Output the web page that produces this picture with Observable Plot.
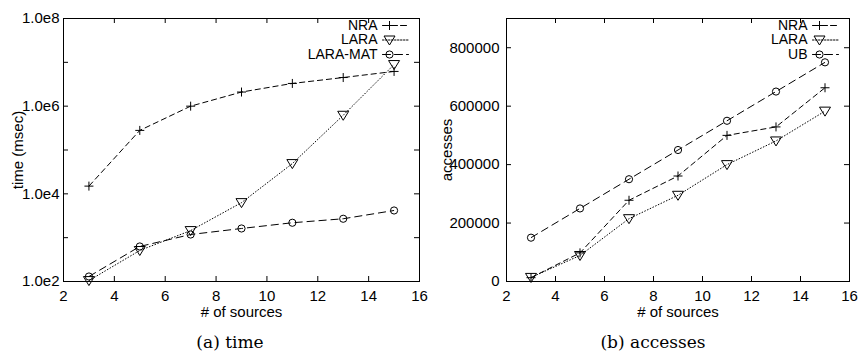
<!DOCTYPE html>
<html><head><meta charset="utf-8">
<script src="https://cdn.jsdelivr.net/npm/d3@7"></script>
<script src="https://cdn.jsdelivr.net/npm/@observablehq/plot@0.6"></script>
<style>
body{margin:0;background:#fff;}
#wrap{position:relative;width:862px;height:356px;overflow:hidden;background:#fff;}
#wrap svg, #wrap svg text{font-family:"Liberation Sans", Arial, sans-serif !important;}
.panel{position:absolute;top:0;}
.cap{position:absolute;font-family:"DejaVu Serif",serif;font-size:17px;line-height:17px;transform:translateX(-50%);white-space:nowrap;color:#000;}
</style></head><body>
<div id="wrap">
  <div id="pa" class="panel" style="left:0px"></div>
  <div id="pb" class="panel" style="left:431px"></div>
  <div class="cap" style="left:230px;top:334px">(a) time</div>
  <div class="cap" style="left:653px;top:334px">(b) accesses</div>
</div>
<script>
// ---- data ----
const sources = [3, 5, 7, 9, 11, 13, 15];
const timeNRA = [15000, 280000, 1000000, 2100000, 3300000, 4500000, 6200000];
const timeLARA = [105, 510, 1450, 6300, 49000, 620000, 8900000];
const timeLARAMAT = [130, 630, 1180, 1620, 2190, 2700, 4170];
const accNRA = [13000, 98000, 278000, 361000, 500000, 529000, 663000];
const accLARA = [14000, 89000, 215000, 295000, 400000, 481000, 583000];
const accUB = [150000, 250000, 350000, 450000, 550000, 650000, 750000];
const xTicks = [2, 4, 6, 8, 10, 12, 14, 16];
const timeTicks = [1e2, 1e3, 1e4, 1e5, 1e6, 1e7, 1e8];
const timeLabelTicks = [1e2, 1e4, 1e6, 1e8];
const timeLabels = ["1.0e2", "1.0e4", "1.0e6", "1.0e8"];
const accTicks = [0, 200000, 400000, 600000, 800000];
const accLabels = ["0", "200000", "400000", "600000", "800000"];

// ---- symbols ----
const symPlus = {draw(c) { c.moveTo(-4.5, 0); c.lineTo(4.5, 0); c.moveTo(0, -4.5); c.lineTo(0, 4.5); }};
const symTri = {draw(c) { c.moveTo(-5.5, -4); c.lineTo(5.5, -4); c.lineTo(0, 5); c.closePath(); }};
const symCirc = {draw(c) { c.moveTo(3.6, 0); c.arc(0, 0, 3.6, 0, 2 * Math.PI); }};
const lineShape = {draw(c, l) { c.moveTo(0, 0); c.lineTo(0, -l); }};

const FONT = "Liberation Sans, Arial, sans-serif";

function rows(vals) { return sources.map((x, i) => ({x, y: vals[i]})); }

function seriesMarks(series) {
  return series.flatMap(s => [
    Plot.line(rows(s.vals), {x: "x", y: "y", stroke: "#000", strokeWidth: 1, strokeDasharray: s.dash, strokeLinecap: "butt"}),
    Plot.dot(rows(s.vals), {x: "x", y: "y", symbol: s.symbol, r: 4, stroke: "#000", fill: "none", strokeWidth: 1})
  ]);
}

function legendMarks(series) {
  return series.flatMap((s, i) => {
    const dy = 7 + i * 14.5;
    return [
      Plot.text([s.name], {text: d => d, frameAnchor: "top-right", dx: -42, dy, textAnchor: "end", lineAnchor: "middle", fontSize: 14, fill: "#000"}),
      Plot.vector([0], {frameAnchor: "top-right", dx: -37, dy, length: 26, rotate: 90, anchor: "start", shape: lineShape, stroke: "#000", strokeWidth: 1, strokeDasharray: s.dash}),
      Plot.dot([0], {frameAnchor: "top-right", dx: -30, dy, symbol: s.symbol, r: 4, stroke: "#000", fill: "none", strokeWidth: 1})
    ];
  });
}

function tickMarks(yTicks, plotW, plotH) {
  return [
    Plot.ruleX(xTicks, {x: d => d, insetTop: plotH - 5, stroke: "#000", strokeWidth: 1}),
    Plot.ruleX(xTicks, {x: d => d, insetBottom: plotH - 5, stroke: "#000", strokeWidth: 1}),
    Plot.ruleY(yTicks, {y: d => d, insetRight: plotW - 5, stroke: "#000", strokeWidth: 1}),
    Plot.ruleY(yTicks, {y: d => d, insetLeft: plotW - 5, stroke: "#000", strokeWidth: 1})
  ];
}

const W = 431, H = 322, MT = 18, MB = 41;

// ---- (a) time ----
const seriesA = [
  {name: "NRA", vals: timeNRA, symbol: symPlus, dash: "6,3"},
  {name: "LARA", vals: timeLARA, symbol: symTri, dash: "1.5,1.5"},
  {name: "LARA-MAT", vals: timeLARAMAT, symbol: symCirc, dash: "8,4"}
];
const mlA = 63, mrA = 12;
const chartA = Plot.plot({
  width: W, height: H, marginTop: MT, marginBottom: MB, marginLeft: mlA, marginRight: mrA,
  style: {fontFamily: FONT, fontSize: "15px", color: "#000", background: "#fff", overflow: "visible"},
  x: {domain: [2, 16]},
  y: {type: "log", domain: [1e2, 1e8]},
  marks: [
    Plot.frame({stroke: "#000", strokeWidth: 1}),
    ...tickMarks(timeTicks, W - mlA - mrA, H - MT - MB),
    Plot.axisX(xTicks, {tickSize: 0, tickPadding: 9, label: null, tickFormat: d => String(d), fontSize: 15}),
    Plot.axisY(timeLabelTicks, {tickSize: 0, tickPadding: 4, label: null, tickFormat: d => timeLabels[timeLabelTicks.indexOf(d)], fontSize: 15}),
    Plot.text(["# of sources"], {text: d => d, frameAnchor: "bottom", dy: 31, textAnchor: "middle", lineAnchor: "middle", fontSize: 15, fill: "#000"}),
    Plot.text(["time (msec)"], {text: d => d, frameAnchor: "left", dx: -45, rotate: -90, textAnchor: "middle", lineAnchor: "middle", fontSize: 15, fill: "#000"}),
    ...seriesMarks(seriesA),
    ...legendMarks(seriesA)
  ]
});
document.getElementById("pa").appendChild(chartA);

// ---- (b) accesses ----
const seriesB = [
  {name: "NRA", vals: accNRA, symbol: symPlus, dash: "6,3"},
  {name: "LARA", vals: accLARA, symbol: symTri, dash: "1.5,1.5"},
  {name: "UB", vals: accUB, symbol: symCirc, dash: "8,4"}
];
const mlB = 75, mrB = 13;
const chartB = Plot.plot({
  width: W, height: H, marginTop: MT, marginBottom: MB, marginLeft: mlB, marginRight: mrB,
  style: {fontFamily: FONT, fontSize: "15px", color: "#000", background: "#fff", overflow: "visible"},
  x: {domain: [2, 16]},
  y: {domain: [0, 900000]},
  marks: [
    Plot.frame({stroke: "#000", strokeWidth: 1}),
    ...tickMarks(accTicks, W - mlB - mrB, H - MT - MB),
    Plot.axisX(xTicks, {tickSize: 0, tickPadding: 9, label: null, tickFormat: d => String(d), fontSize: 15}),
    Plot.axisY(accTicks, {tickSize: 0, tickPadding: 7, label: null, tickFormat: d => accLabels[accTicks.indexOf(d)], fontSize: 15}),
    Plot.text(["# of sources"], {text: d => d, frameAnchor: "bottom", dy: 31, textAnchor: "middle", lineAnchor: "middle", fontSize: 15, fill: "#000"}),
    Plot.text(["accesses"], {text: d => d, frameAnchor: "left", dx: -59, rotate: -90, textAnchor: "middle", lineAnchor: "middle", fontSize: 15, fill: "#000"}),
    ...seriesMarks(seriesB),
    ...legendMarks(seriesB)
  ]
});
document.getElementById("pb").appendChild(chartB);
</script>
</body></html>
